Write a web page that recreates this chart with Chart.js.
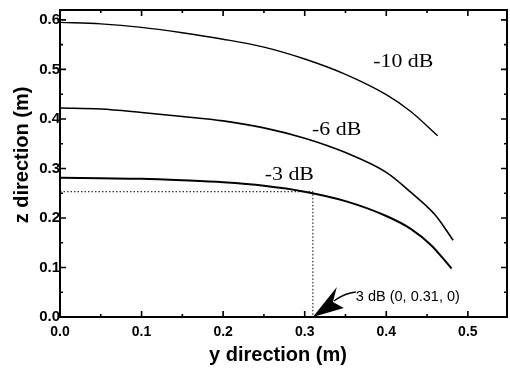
<!DOCTYPE html>
<html>
<head>
<meta charset="utf-8">
<script src="https://cdn.jsdelivr.net/npm/chart.js@4/dist/chart.umd.min.js"></script>
<style>
  html, body { margin: 0; padding: 0; background: #fff; }
  #wrap { width: 510px; height: 372px; }
</style>
</head>
<body>
<div id="wrap"><canvas id="myChart" width="510" height="372"></canvas></div>
<script>
// contour values (y direction in m, z direction in m)
let y10 = [0, 0.05, 0.1, 0.15, 0.2, 0.25, 0.3, 0.35, 0.4, 0.43, 0.463]
let z10 = [0.595, 0.592, 0.585, 0.574, 0.561, 0.545, 0.521, 0.49, 0.449, 0.415, 0.366]

let y6 = [0, 0.05, 0.1, 0.15, 0.2, 0.25, 0.3, 0.35, 0.4, 0.43, 0.46, 0.482]
let z6 = [0.422, 0.42, 0.413, 0.405, 0.396, 0.382, 0.361, 0.332, 0.292, 0.252, 0.206, 0.155]

let y3 = [0, 0.05, 0.1, 0.15, 0.2, 0.25, 0.3, 0.35, 0.4, 0.43, 0.455, 0.48]
let z3 = [0.281, 0.28, 0.279, 0.276, 0.272, 0.265, 0.253, 0.234, 0.204, 0.178, 0.145, 0.098]

// dotted guide to the -3 dB point
let guideY = [0, 0.31, 0.31]
let guideZ = [0.253, 0.253, 0]

let xTicks = [0, 0.1, 0.2, 0.3, 0.4, 0.5]
let yTicks = [0, 0.1, 0.2, 0.3, 0.4, 0.5, 0.6]
let xMinor = [0.05, 0.15, 0.25, 0.35, 0.45]
let yMinor = [0.05, 0.15, 0.25, 0.35, 0.45, 0.55]

let curveNames = ['-10 dB', '-6 dB', '-3 dB']
let noteText = '3 dB (0, 0.31, 0)'

function pts(xs, ys) {
    let out = []
    for (let i = 0; i < xs.length; i++) out.push({ x: xs[i], y: ys[i] })
    return out
}

const decor = {
    id: 'decor',
    afterDatasetsDraw(chart) {
        const c = chart.ctx
        const a = chart.chartArea
        const xs = chart.scales.x
        const ys = chart.scales.y
        c.save()
        c.strokeStyle = '#000'
        c.fillStyle = '#000'

        // frame
        c.lineWidth = 2
        c.strokeRect(a.left, a.top, a.right - a.left, a.bottom - a.top)

        // inward ticks on all four sides
        c.lineWidth = 1.6
        function xt(v, len) {
            let p = xs.getPixelForValue(v)
            c.beginPath()
            c.moveTo(p, a.bottom); c.lineTo(p, a.bottom - len)
            c.moveTo(p, a.top); c.lineTo(p, a.top + len)
            c.stroke()
        }
        function yt(v, len) {
            let p = ys.getPixelForValue(v)
            c.beginPath()
            c.moveTo(a.left, p); c.lineTo(a.left + len, p)
            c.moveTo(a.right, p); c.lineTo(a.right - len, p)
            c.stroke()
        }
        xTicks.forEach(v => xt(v, 6))
        xMinor.forEach(v => xt(v, 3))
        yTicks.forEach(v => yt(v, 6))
        yMinor.forEach(v => yt(v, 3))

        // curve labels
        c.font = '19px "Liberation Serif", "Times New Roman", serif'
        c.textBaseline = 'alphabetic'
        c.textAlign = 'left'
        let lab = [[0.384, 0.505], [0.309, 0.368], [0.251, 0.277]]
        for (let i = 0; i < lab.length; i++) {
            let px = xs.getPixelForValue(lab[i][0])
            let py = ys.getPixelForValue(lab[i][1])
            c.save()
            c.translate(px, py)
            c.scale(1.15, 1)
            c.fillText(curveNames[i], 0, 0)
            c.restore()
        }

        // arrow pointing at the -3 dB crossing
        let tx = xs.getPixelForValue(0.31)
        let ty = ys.getPixelForValue(0)
        c.beginPath()
        c.moveTo(tx, ty)
        c.lineTo(tx + 24, ty - 30)
        c.lineTo(tx + 20, ty - 15)
        c.lineTo(tx + 31, ty - 9)
        c.closePath()
        c.fill()
        c.lineWidth = 1.3
        c.beginPath()
        c.moveTo(tx + 21, ty - 16)
        c.quadraticCurveTo(tx + 32, ty - 24, tx + 43, ty - 25)
        c.stroke()

        c.font = '14.5px "Liberation Sans", Arial, sans-serif'
        c.fillText(noteText, tx + 43, ty - 16)

        // axis titles
        c.font = 'bold 20px "Liberation Sans", Arial, sans-serif'
        c.textAlign = 'center'
        c.textBaseline = 'middle'
        c.fillText('y direction (m)', 278, 355)
        c.save()
        c.translate(22, 155)
        c.rotate(-Math.PI / 2)
        c.fillText('z direction (m)', 0, 0)
        c.restore()

        c.restore()
    }
}

const ctx = document.getElementById('myChart').getContext('2d')
let myChart = new Chart(ctx, {
    type: 'scatter',
    data: {
        datasets: [{
            label: curveNames[0],
            data: pts(y10, z10),
            showLine: true,
            borderColor: '#000',
            borderWidth: 1.4,
            pointRadius: 0,
            cubicInterpolationMode: 'monotone'
        }, {
            label: curveNames[1],
            data: pts(y6, z6),
            showLine: true,
            borderColor: '#000',
            borderWidth: 1.6,
            pointRadius: 0,
            cubicInterpolationMode: 'monotone'
        }, {
            label: curveNames[2],
            data: pts(y3, z3),
            showLine: true,
            borderColor: '#000',
            borderWidth: 2,
            pointRadius: 0,
            cubicInterpolationMode: 'monotone'
        }, {
            label: 'guide',
            data: pts(guideY, guideZ),
            showLine: true,
            borderColor: '#000',
            borderWidth: 1,
            borderDash: [1.5, 2],
            pointRadius: 0,
            tension: 0
        }]
    },
    plugins: [decor],
    options: {
        responsive: false,
        animation: false,
        events: [],
        layout: { padding: { left: 0, right: 3, top: 10, bottom: 0 } },
        plugins: {
            legend: { display: false },
            tooltip: { enabled: false }
        },
        scales: {
            x: {
                type: 'linear',
                min: 0,
                max: 0.548,
                grid: { display: false, drawTicks: false },
                border: { display: false },
                afterFit: function (s) { s.height = 55 },
                afterBuildTicks: function (s) { s.ticks = xTicks.map(v => ({ value: v })) },
                ticks: {
                    color: '#000',
                    padding: 7,
                    maxRotation: 0,
                    font: { family: '"Liberation Sans", Arial, sans-serif', size: 14, weight: 'bold' },
                    callback: v => v.toFixed(1)
                }
            },
            y: {
                type: 'linear',
                min: 0,
                max: 0.62,
                grid: { display: false, drawTicks: false },
                border: { display: false },
                afterFit: function (s) { s.width = 60 },
                afterBuildTicks: function (s) { s.ticks = yTicks.map(v => ({ value: v })) },
                ticks: {
                    color: '#000',
                    padding: 0,
                    font: { family: '"Liberation Sans", Arial, sans-serif', size: 15, weight: 'bold' },
                    callback: v => v.toFixed(1)
                }
            }
        }
    }
})
</script>
</body>
</html>
